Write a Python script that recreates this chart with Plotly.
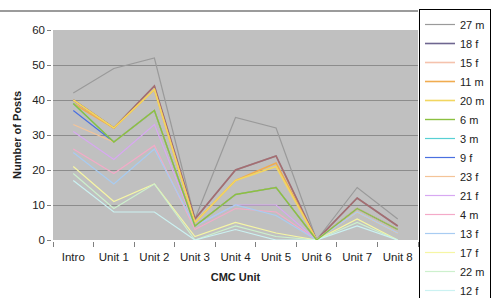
import plotly.graph_objects as go

categories = ["Intro", "Unit 1", "Unit 2", "Unit 3", "Unit 4", "Unit 5", "Unit 6", "Unit 7", "Unit 8"]

s_27m = [42, 49, 52, 6, 35, 32, 0, 15, 6]
s_18f = [40, 32, 44, 6, 20, 24, 0, 12, 4]
s_15f = [40, 32, 44, 6, 20, 24, 0, 12, 4]
s_11m = [39, 32, 43, 5, 17, 22, 0, 9, 3]
s_20m = [40, 32, 43, 5, 17, 21, 0, 8, 2]
s_6m = [39, 28, 37, 4, 13, 15, 0, 9, 3]
s_3m = [39, 28, 37, 4, 13, 15, 0, 9, 3]
s_9f = [37, 28, 37, 4, 13, 15, 0, 9, 3]
s_23f = [33, 28, 37, 4, 13, 15, 0, 9, 3]
s_21f = [31, 23, 33, 4, 10, 10, 0, 9, 3]
s_4m = [26, 19, 27, 3, 9, 8, 0, 8, 2]
s_13f = [25, 16, 26, 4, 10, 7, 0, 8, 2]
s_17f = [21, 11, 16, 1, 5, 2, 0, 6, 0]
s_22m = [19, 9, 16, 0, 4, 1, 0, 5, 0]
s_12f = [17, 8, 8, 0, 3, 0, 0, 4, 0]

series = [
    ("27 m", s_27m, "#9a9a9a", 1.2, 1.0, 0),
    ("18 f", s_18f, "#6e6690", 1.6, 1.0, 0),
    ("15 f", s_15f, "#e8784a", 1.6, 0.45, 0),
    ("11 m", s_11m, "#f0ac50", 1.6, 1.0, 0),
    ("20 m", s_20m, "#f2d660", 1.6, 1.0, 0),
    ("6 m", s_6m, "#8cc040", 1.4, 1.0, 1),
    ("3 m", s_3m, "#58d0d4", 1.2, 1.0, 0),
    ("9 f", s_9f, "#4a70e0", 1.2, 1.0, 0),
    ("23 f", s_23f, "#f4c498", 1.2, 1.0, 0),
    ("21 f", s_21f, "#d8a8f2", 1.2, 1.0, 0),
    ("4 m", s_4m, "#f4aac8", 1.2, 1.0, 0),
    ("13 f", s_13f, "#a8ccf2", 1.2, 1.0, 0),
    ("17 f", s_17f, "#f6f6a4", 1.2, 1.0, 0),
    ("22 m", s_22m, "#cdf0cd", 1.2, 1.0, 0),
    ("12 f", s_12f, "#cbf2f2", 1.2, 1.0, 0),
]

fig = go.Figure()
for name, vals, color, w, op, z in series:
    fig.add_trace(go.Scatter(
        x=categories, y=vals, name=name, mode="lines", zorder=z,
        line=dict(color=color, width=w), opacity=op,
    ))

font_family = "Liberation Sans, Arial, sans-serif"

fig.update_layout(
    width=492, height=298,
    margin=dict(l=53, r=74, t=30, b=58, autoexpand=False),
    paper_bgcolor="white",
    plot_bgcolor="#c0c0c0",
    font=dict(family=font_family, size=11, color="#222222"),
    showlegend=True,
    legend=dict(
        x=(491 - 53) / 365, xanchor="right", y=(240 - 9) / 210, yanchor="top",
        bordercolor="#000000", borderwidth=1, bgcolor="white",
        font=dict(size=11, color="#222222"), itemwidth=30, tracegroupgap=0,
        maxheight=298,
    ),
    xaxis=dict(
        type="category", tickson="boundaries", ticks="outside", ticklen=5,
        tickcolor="#808080", showline=True, linecolor="#808080", linewidth=1.5,
        showgrid=False, range=[-0.5, 8.5], ticklabelstandoff=5,
        title=dict(text="<b>CMC Unit</b>", font=dict(size=11), standoff=12),
        tickfont=dict(size=11.5),
    ),
    yaxis=dict(
        range=[0, 60], dtick=10, ticks="outside", ticklen=4, tickcolor="#808080",
        showline=True, linecolor="#808080", linewidth=1.5,
        showgrid=True, gridcolor="#8c8c8c", gridwidth=1, zeroline=False,
        title=dict(text="<b>Number of Posts</b>", font=dict(size=11), standoff=8),
        tickfont=dict(size=11.5),
    ),
    shapes=[dict(
        type="line", xref="paper", yref="paper",
        x0=-0.2, x1=1.0, y0=(240 - 11) / 210, y1=(240 - 11) / 210,
        line=dict(color="#7a7a7a", width=1.5),
    )],
)

fig.write_html("out.html")
